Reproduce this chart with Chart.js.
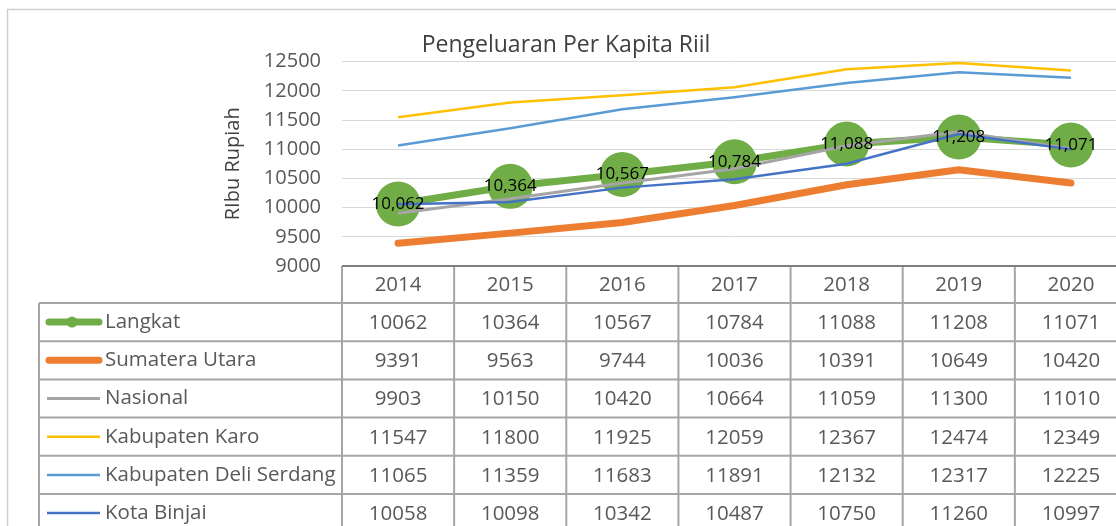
<!DOCTYPE html>
<html>
<head>
<meta charset="utf-8">
<script src="https://cdn.jsdelivr.net/npm/chart.js@4"></script>
<style>
  html, body { margin: 0; padding: 0; overflow: hidden; background: #fff; }
  #lineChart { display: block; }
</style>
</head>
<body>
<canvas id="lineChart" width="1130" height="526"></canvas>
<script>
const years = ['2014', '2015', '2016', '2017', '2018', '2019', '2020'];
const seriesNames = ['Langkat', 'Sumatera Utara', 'Nasional', 'Kabupaten Karo', 'Kabupaten Deli Serdang', 'Kota Binjai'];
const langkat = [10062, 10364, 10567, 10784, 11088, 11208, 11071];
const sumut = [9391, 9563, 9744, 10036, 10391, 10649, 10420];
const nasional = [9903, 10150, 10420, 10664, 11059, 11300, 11010];
const karo = [11547, 11800, 11925, 12059, 12367, 12474, 12349];
const deliSerdang = [11065, 11359, 11683, 11891, 12132, 12317, 12225];
const binjai = [10058, 10098, 10342, 10487, 10750, 11260, 10997];
const yTicks = [9000, 9500, 10000, 10500, 11000, 11500, 12000, 12500];

const seriesValues = [langkat, sumut, nasional, karo, deliSerdang, binjai];
const colors = ['#70AD47', '#ED7D31', '#A5A5A5', '#FFC000', '#5B9BD5', '#4472C4'];
const widths = [7, 7, 3, 2.5, 2.5, 2.5];
const font = '"Open Sans", sans-serif';

// value labels on Langkat
const pointLabels = {
    id: 'pointLabels',
    afterDatasetsDraw(chart) {
        const c = chart.ctx;
        const meta = chart.getDatasetMeta(0);
        c.save();
        c.font = '17px ' + font;
        c.fillStyle = '#000';
        c.textAlign = 'center';
        c.textBaseline = 'middle';
        meta.data.forEach((pt, i) => {
            c.fillText(langkat[i].toLocaleString('en-US'), pt.x, pt.y);
        });
        c.restore();
    }
};

// data table under the plot, like Excel
const dataTable = {
    id: 'dataTable',
    afterDraw(chart) {
        const c = chart.ctx;
        const x = chart.scales.x;
        const area = chart.chartArea;
        const step = (area.right - area.left) / years.length;
        const top = area.bottom;
        const headH = 37;
        const rowH = 38.2;
        const legendLeft = 39;
        const bottom = top + headH + rowH * seriesNames.length;
        c.save();

        // outer chart border
        c.strokeStyle = '#D0D0D0';
        c.lineWidth = 1.5;
        c.strokeRect(7.5, 9.5, 1200, 600);

        c.strokeStyle = '#A6A6A6';
        c.lineWidth = 2;
        c.beginPath();
        for (let r = 0; r <= seriesNames.length; r++) {
            const y = top + headH + r * rowH;
            c.moveTo(legendLeft, y);
            c.lineTo(area.right + 10, y);
        }
        for (let k = 0; k <= years.length; k++) {
            const xx = area.left + k * step;
            c.moveTo(xx, top);
            c.lineTo(xx, bottom);
        }
        c.moveTo(legendLeft, top + headH);
        c.lineTo(legendLeft, bottom);
        c.stroke();

        // axis line
        c.strokeStyle = '#7F7F7F';
        c.beginPath();
        c.moveTo(area.left, top);
        c.lineTo(area.right + 10, top);
        c.stroke();

        c.textBaseline = 'middle';
        c.fillStyle = '#595959';
        c.font = '20.5px ' + font;
        c.textAlign = 'center';
        years.forEach((yr, i) => {
            c.fillText(yr, x.getPixelForValue(i), top + headH / 2 + 1);
        });
        seriesNames.forEach((name, r) => {
            const cy = top + headH + r * rowH + rowH / 2;
            c.textAlign = 'center';
            c.fillStyle = '#595959';
            seriesValues[r].forEach((v, i) => {
                c.fillText(String(v), x.getPixelForValue(i), cy + 1);
            });
            // legend key
            c.strokeStyle = colors[r];
            c.lineWidth = widths[r];
            c.lineCap = r < 2 ? 'round' : 'butt';
            c.beginPath();
            c.moveTo(r < 2 ? 49 : 47, cy);
            c.lineTo(r < 2 ? 99 : 100, cy);
            c.stroke();
            if (r === 0) {
                c.fillStyle = colors[0];
                c.beginPath();
                c.arc(72, cy, 5.5, 0, Math.PI * 2);
                c.fill();
            }
            c.fillStyle = '#595959';
            c.textAlign = 'left';
            c.fillText(name, 105, cy);
        });
        c.restore();
    }
};

const ctx = document.getElementById('lineChart');

new Chart(ctx, {
    type: 'line',
    data: {
        labels: years,
        datasets: seriesNames.map((name, i) => ({
            label: name,
            data: seriesValues[i],
            borderColor: colors[i],
            backgroundColor: colors[i],
            borderWidth: widths[i],
            borderCapStyle: i < 2 ? 'round' : 'butt',
            tension: 0,
            pointRadius: i === 0 ? 22.5 : 0,
            pointHoverRadius: i === 0 ? 22.5 : 0,
            pointBorderWidth: 0,
            clip: false,
            order: seriesNames.length - i
        }))
    },
    options: {
        responsive: false,
        animation: false,
        layout: {
            autoPadding: false,
            padding: { left: 5, right: 3, top: 20, bottom: 260 }
        },
        scales: {
            x: {
                offset: true,
                ticks: { display: false },
                grid: { display: false },
                border: { display: false },
                afterFit: s => { s.height = 0; }
            },
            y: {
                min: 9000,
                max: 12500,
                afterBuildTicks: s => { s.ticks = yTicks.map(v => ({ value: v })); },
                afterFit: s => { s.width = 337; },
                ticks: {
                    padding: 21,
                    color: '#595959',
                    font: { family: font, size: 20 },
                    callback: v => String(v)
                },
                grid: { color: '#D9D9D9', lineWidth: 1, drawTicks: false },
                border: { display: false },
                title: {
                    display: true,
                    text: 'RIbu Rupiah',
                    color: '#404040',
                    font: { family: font, size: 20 },
                    padding: { top: 216, bottom: 0 }
                }
            }
        },
        plugins: {
            legend: { display: false },
            tooltip: { enabled: false },
            title: {
                display: true,
                text: 'Pengeluaran Per Kapita Riil',
                color: '#404040',
                font: { family: font, size: 23, weight: 'normal' },
                padding: { top: 12, bottom: 2 }
            }
        }
    },
    plugins: [pointLabels, dataTable]
});
</script>
</body>
</html>
